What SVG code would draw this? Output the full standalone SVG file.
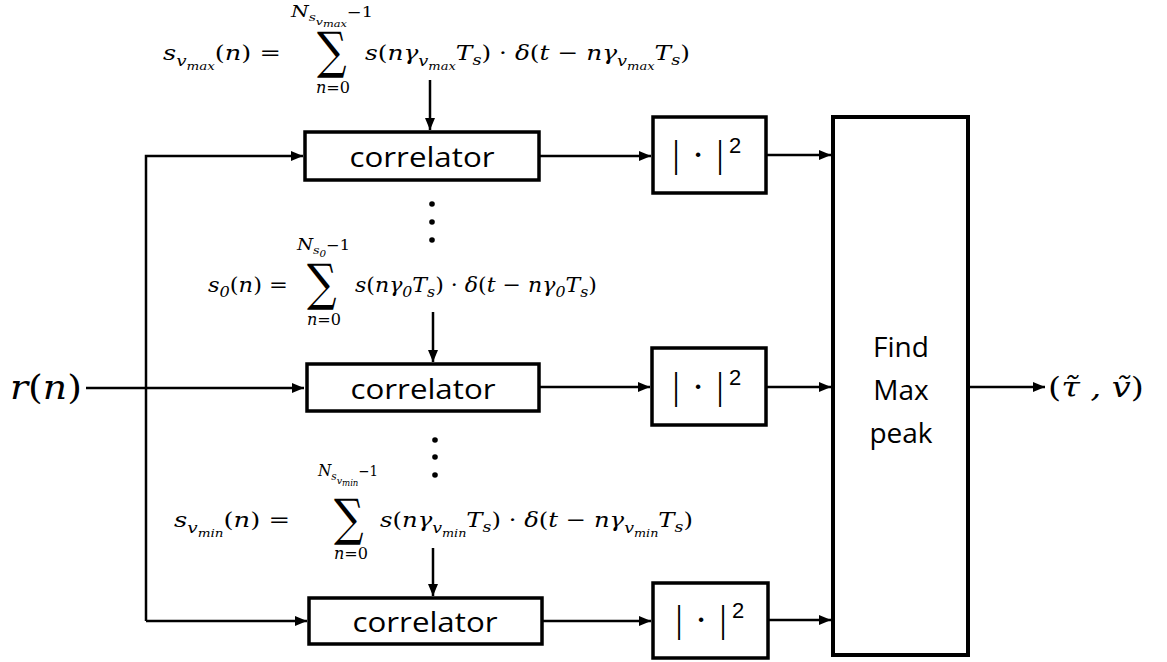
<svg xmlns="http://www.w3.org/2000/svg" width="1167" height="662" viewBox="0 0 1167 662">
<style>
.box{fill:#fff;stroke:#000;stroke-width:3.5}
.ln{fill:none;stroke:#000;stroke-width:2.5}
.lbl{font-family:"Open Sans","Liberation Sans",sans-serif;font-size:27px;fill:#000}
.m{font-family:"DejaVu Serif","Liberation Serif",serif;font-style:italic;font-size:21px;fill:#000}
.s1{font-size:15px}
.s2{font-size:11px}
.up{font-style:normal}
.sum{font-family:"DejaVu Serif","Liberation Serif",serif;font-size:46px;fill:#000}
.ab{font-family:"Liberation Serif",serif;font-size:38px;fill:#000}
.sq{font-family:"Liberation Sans",sans-serif;font-size:22px;fill:#000}
</style>
<defs>
<marker id="ah" markerUnits="userSpaceOnUse" markerWidth="13" markerHeight="11" refX="12" refY="5" orient="auto"><path d="M0,0 L12,5 L0,10 z" fill="#000"/></marker>
</defs>
<rect width="1167" height="662" fill="#fff"/>
<g id="connectors">
<path class="ln" d="M86,388 H304" marker-end="url(#ah)"/>
<path class="ln" d="M146,621 V156 H303" marker-end="url(#ah)"/>
<path class="ln" d="M146,621 H307" marker-end="url(#ah)"/>
<path class="ln" d="M539,156 H651" marker-end="url(#ah)"/>
<path class="ln" d="M539,387 H650" marker-end="url(#ah)"/>
<path class="ln" d="M542,621 H651" marker-end="url(#ah)"/>
<path class="ln" d="M766,155 H831" marker-end="url(#ah)"/>
<path class="ln" d="M766,387 H831" marker-end="url(#ah)"/>
<path class="ln" d="M768,620 H831" marker-end="url(#ah)"/>
<path class="ln" d="M968,387 H1045" marker-end="url(#ah)"/>
<path class="ln" d="M430,80 V130" marker-end="url(#ah)"/>
<path class="ln" d="M433,312 V362" marker-end="url(#ah)"/>
<path class="ln" d="M433,548 V596" marker-end="url(#ah)"/>
</g>
<g id="input">
<text class="m" x="10" y="399" style="font-size:33px" textLength="72" lengthAdjust="spacingAndGlyphs">r<tspan class="up">(</tspan>n<tspan class="up">)</tspan></text>
</g>
<g id="output">
<text x="1048" y="397" style="font-family:'DejaVu Serif',serif;font-style:italic;font-size:28px" textLength="96" lengthAdjust="spacingAndGlyphs"><tspan style="font-style:normal">(</tspan>τ̃ , ṽ<tspan style="font-style:normal">)</tspan></text>
</g>
<g id="corr1">
<rect class="box" x="305" y="132" width="234" height="48"/>
<text class="lbl" x="422" y="167" text-anchor="middle" textLength="145" lengthAdjust="spacingAndGlyphs">correlator</text>
</g>
<g id="corr2">
<rect class="box" x="307" y="364" width="232" height="47"/>
<text class="lbl" x="423" y="399" text-anchor="middle" textLength="145" lengthAdjust="spacingAndGlyphs">correlator</text>
</g>
<g id="corr3">
<rect class="box" x="309" y="598" width="233" height="46"/>
<text class="lbl" x="425" y="632" text-anchor="middle" textLength="145" lengthAdjust="spacingAndGlyphs">correlator</text>
</g>
<g id="abs1">
<rect class="box" x="653" y="117" width="113" height="76"/>
<text class="ab" x="676" y="167" text-anchor="middle">|</text><text class="ab" x="698" y="167" text-anchor="middle">·</text><text class="ab" x="720" y="167" text-anchor="middle">|</text>
<text class="sq" x="729" y="153">2</text>
</g>
<g id="abs2">
<rect class="box" x="652" y="348" width="114" height="77"/>
<text class="ab" x="676" y="399" text-anchor="middle">|</text><text class="ab" x="698" y="399" text-anchor="middle">·</text><text class="ab" x="720" y="399" text-anchor="middle">|</text>
<text class="sq" x="729" y="385">2</text>
</g>
<g id="abs3">
<rect class="box" x="653" y="583" width="115" height="75"/>
<text class="ab" x="679" y="632" text-anchor="middle">|</text><text class="ab" x="701" y="632" text-anchor="middle">·</text><text class="ab" x="723" y="632" text-anchor="middle">|</text>
<text class="sq" x="732" y="618">2</text>
</g>
<g id="findmax">
<rect class="box" x="833" y="117" width="135" height="538" style="stroke-width:4"/>
<text class="lbl" x="901" y="357" text-anchor="middle" style="font-size:28px">Find</text>
<text class="lbl" x="901" y="400" text-anchor="middle" style="font-size:28px">Max</text>
<text class="lbl" x="901" y="443" text-anchor="middle" style="font-size:28px">peak</text>
</g>
<g id="dots">
<circle cx="432" cy="204" r="2.8"/><circle cx="432" cy="222" r="2.8"/><circle cx="432" cy="240" r="2.8"/>
<circle cx="435" cy="440" r="2.8"/><circle cx="435" cy="457" r="2.8"/><circle cx="435" cy="475" r="2.8"/>
</g>
<g id="formula-vmax">
<text class="m" x="163" y="60" textLength="118" lengthAdjust="spacingAndGlyphs">s<tspan class="s1" dy="6">v</tspan><tspan class="s2" dy="4">max</tspan><tspan class="up" dy="-10">(</tspan>n<tspan class="up">) =</tspan></text>
<text class="sum" transform="translate(317,68) scale(0.9,1.1)">∑</text>
<text class="m" x="291" y="17" style="font-size:16px" textLength="82" lengthAdjust="spacingAndGlyphs">N<tspan class="s2" dy="4">s</tspan><tspan style="font-size:10px" dy="4">v</tspan><tspan style="font-size:9px" dy="2">max</tspan><tspan class="up" dy="-10" style="font-size:14px">−1</tspan></text>
<text class="m" x="316" y="93" style="font-size:16px" textLength="34" lengthAdjust="spacingAndGlyphs">n<tspan class="up">=0</tspan></text>
<text class="m" x="365" y="60" textLength="325" lengthAdjust="spacingAndGlyphs">s<tspan class="up">(</tspan>nγ<tspan class="s1" dy="6">v</tspan><tspan class="s2" dy="4">max</tspan><tspan dy="-10">T</tspan><tspan class="s1" dy="5">s</tspan><tspan class="up" dy="-5">) · </tspan>δ<tspan class="up">(</tspan>t <tspan class="up">−</tspan> nγ<tspan class="s1" dy="6">v</tspan><tspan class="s2" dy="4">max</tspan><tspan dy="-10">T</tspan><tspan class="s1" dy="5">s</tspan><tspan class="up" dy="-5">)</tspan></text>
</g>
<g id="formula-0">
<text class="m" x="208" y="292" textLength="80" lengthAdjust="spacingAndGlyphs">s<tspan class="s1" dy="5">0</tspan><tspan class="up" dy="-5">(</tspan>n<tspan class="up">) =</tspan></text>
<text class="sum" transform="translate(307,300) scale(0.9,1.1)">∑</text>
<text class="m" x="297" y="250" style="font-size:16px" textLength="53" lengthAdjust="spacingAndGlyphs">N<tspan class="s2" dy="4">s</tspan><tspan style="font-size:9px" dy="3">0</tspan><tspan class="up" dy="-7" style="font-size:14px">−1</tspan></text>
<text class="m" x="307" y="325" style="font-size:16px" textLength="34" lengthAdjust="spacingAndGlyphs">n<tspan class="up">=0</tspan></text>
<text class="m" x="355" y="292" textLength="242" lengthAdjust="spacingAndGlyphs">s<tspan class="up">(</tspan>nγ<tspan class="s1" dy="5">0</tspan><tspan dy="-5">T</tspan><tspan class="s1" dy="5">s</tspan><tspan class="up" dy="-5">) · </tspan>δ<tspan class="up">(</tspan>t <tspan class="up">−</tspan> nγ<tspan class="s1" dy="5">0</tspan><tspan dy="-5">T</tspan><tspan class="s1" dy="5">s</tspan><tspan class="up" dy="-5">)</tspan></text>
</g>
<g id="formula-vmin">
<text class="m" x="174" y="527" textLength="116" lengthAdjust="spacingAndGlyphs">s<tspan class="s1" dy="6">v</tspan><tspan class="s2" dy="4">min</tspan><tspan class="up" dy="-10">(</tspan>n<tspan class="up">) =</tspan></text>
<text class="sum" transform="translate(334,535) scale(0.9,1.1)">∑</text>
<text class="m" x="318" y="476" style="font-size:16px" textLength="60" lengthAdjust="spacingAndGlyphs">N<tspan class="s2" dy="4">s</tspan><tspan style="font-size:10px" dy="4">v</tspan><tspan style="font-size:9px" dy="2">min</tspan><tspan class="up" dy="-10" style="font-size:14px">−1</tspan></text>
<text class="m" x="334" y="559" style="font-size:16px" textLength="34" lengthAdjust="spacingAndGlyphs">n<tspan class="up">=0</tspan></text>
<text class="m" x="380" y="527" textLength="313" lengthAdjust="spacingAndGlyphs">s<tspan class="up">(</tspan>nγ<tspan class="s1" dy="6">v</tspan><tspan class="s2" dy="4">min</tspan><tspan dy="-10">T</tspan><tspan class="s1" dy="5">s</tspan><tspan class="up" dy="-5">) · </tspan>δ<tspan class="up">(</tspan>t <tspan class="up">−</tspan> nγ<tspan class="s1" dy="6">v</tspan><tspan class="s2" dy="4">min</tspan><tspan dy="-10">T</tspan><tspan class="s1" dy="5">s</tspan><tspan class="up" dy="-5">)</tspan></text>
</g>
</svg>
